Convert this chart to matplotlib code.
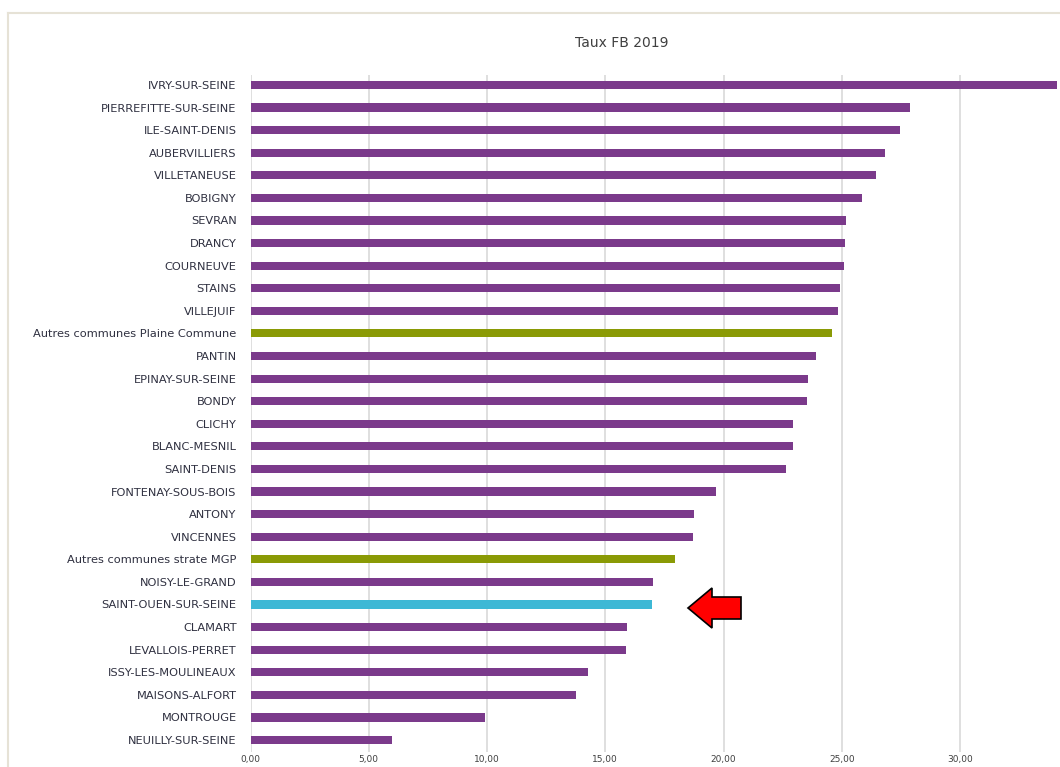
import matplotlib
matplotlib.use('Agg')
import matplotlib.pyplot as plt
from matplotlib.patches import Polygon
from matplotlib.lines import Line2D

# Data (top to bottom)
communes = [
    "IVRY-SUR-SEINE", "PIERREFITTE-SUR-SEINE", "ILE-SAINT-DENIS", "AUBERVILLIERS",
    "VILLETANEUSE", "BOBIGNY", "SEVRAN", "DRANCY", "COURNEUVE", "STAINS",
    "VILLEJUIF", "Autres communes Plaine Commune", "PANTIN", "EPINAY-SUR-SEINE",
    "BONDY", "CLICHY", "BLANC-MESNIL", "SAINT-DENIS", "FONTENAY-SOUS-BOIS",
    "ANTONY", "VINCENNES", "Autres communes strate MGP", "NOISY-LE-GRAND",
    "SAINT-OUEN-SUR-SEINE", "CLAMART", "LEVALLOIS-PERRET", "ISSY-LES-MOULINEAUX",
    "MAISONS-ALFORT", "MONTROUGE", "NEUILLY-SUR-SEINE",
]
taux = [
    34.10, 27.87, 27.45, 26.82, 26.44, 25.85, 25.17, 25.13, 25.08, 24.92,
    24.83, 24.58, 23.90, 23.56, 23.52, 22.93, 22.93, 22.63, 19.67, 18.75,
    18.70, 17.94, 17.01, 16.97, 15.91, 15.87, 14.26, 13.76, 9.91, 5.98,
]
x_ticks = [0, 5, 10, 15, 20, 25, 30]
x_tick_labels = ["0,00", "5,00", "10,00", "15,00", "20,00", "25,00", "30,00"]

purple = "#7b3a8b"
olive = "#8a9a05"
cyan = "#3db8d5"
colors = []
for c in communes:
    if c.startswith("Autres"):
        colors.append(olive)
    elif c == "SAINT-OUEN-SUR-SEINE":
        colors.append(cyan)
    else:
        colors.append(purple)

plt.rcParams["font.family"] = ["Liberation Sans Narrow", "DejaVu Sans"]

fig = plt.figure(figsize=(10.60, 7.67), dpi=100)
ax = fig.add_axes([250.5 / 1060, 1 - 752 / 767, (1057 - 250.5) / 1060, (752 - 75) / 767])

y = list(range(len(communes)))
ax.barh(y, taux, height=0.36, color=colors, zorder=3)

ax.set_xlim(0, 34.1)
ax.set_ylim(29.53, -0.44)
ax.set_yticks(y)
ax.set_yticklabels(communes, fontsize=8.2, color="#2f3040")
ax.set_xticks(x_ticks)
ax.set_xticklabels(x_tick_labels, fontsize=6.5, color="#404040")
ax.tick_params(axis="both", length=0)
ax.tick_params(axis="y", pad=10)
ax.tick_params(axis="x", pad=2)
ax.grid(True, axis="x", color="#d9d9d9", linewidth=1.2, zorder=0)
for s in ax.spines.values():
    s.set_visible(False)

fig.text(622 / 1060, 1 - 43 / 767, "Taux FB 2019", ha="center", va="center",
         fontsize=10, color="#404040")

# chart border (top and left only visible in the crop)
fig.add_artist(Line2D([8 / 1060, 1], [1 - 12.5 / 767, 1 - 12.5 / 767],
                      transform=fig.transFigure, color="#e6e2d6", linewidth=1.5))
fig.add_artist(Line2D([8 / 1060, 8 / 1060], [0, 1 - 12.5 / 767],
                      transform=fig.transFigure, color="#e6e2d6", linewidth=1.5))

# red arrow pointing at SAINT-OUEN-SUR-SEINE
px = [(688, 608), (712, 588), (712, 597), (741, 597), (741, 619), (712, 619), (712, 628)]
arrow = Polygon([(a / 1060, 1 - b / 767) for a, b in px], closed=True,
                transform=fig.transFigure, facecolor="#ff0000", edgecolor="black",
                linewidth=1.2)
fig.add_artist(arrow)

plt.savefig("out.png", dpi=100)
